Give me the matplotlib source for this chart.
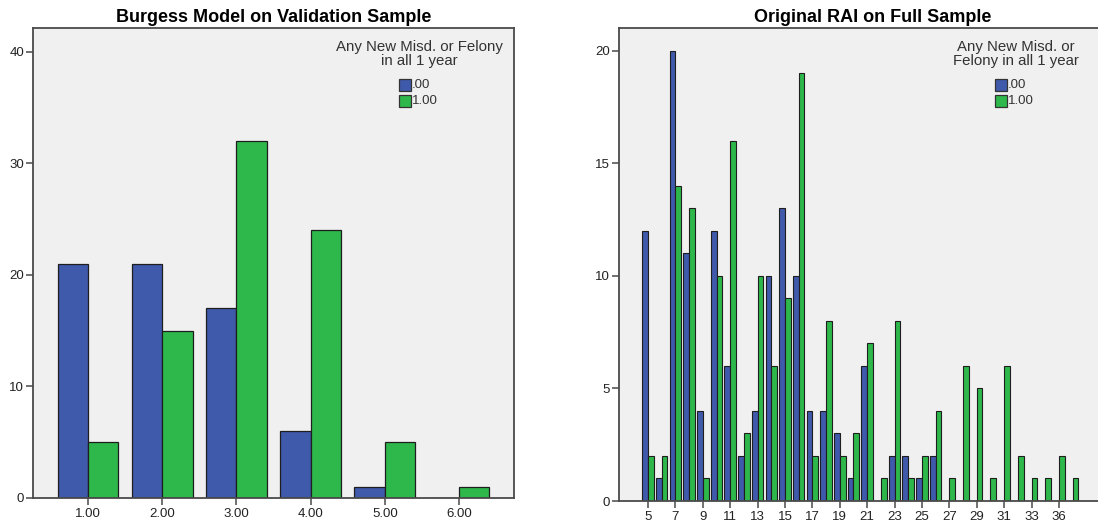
import matplotlib
matplotlib.use("Agg")
import matplotlib.pyplot as plt
from matplotlib.patches import Rectangle
import numpy as np

plt.rcParams['font.family'] = ['Liberation Sans', 'DejaVu Sans']

# ---------------- data ----------------
left_title = "Burgess Model on Validation Sample"
left_cats = ["1.00", "2.00", "3.00", "4.00", "5.00", "6.00"]
left_no = [21, 21, 17, 6, 1, 0]
left_yes = [5, 15, 32, 24, 5, 1]

right_title = "Original RAI on Full Sample"
right_cats = ["5", "6", "7", "8", "9", "10", "11", "12", "13", "14", "15", "16", "17",
              "18", "19", "20", "21", "22", "23", "24", "25", "26", "27", "28", "29",
              "30", "31", "32", "33", "35", "36", "38"]
right_no = [12, 1, 20, 11, 4, 12, 6, 2, 4, 10, 13, 10, 4,
            4, 3, 1, 6, 0, 2, 2, 1, 2, 0, 0, 0,
            0, 0, 0, 0, 0, 0, 0]
right_yes = [2, 2, 14, 13, 1, 10, 16, 3, 10, 6, 9, 19, 2,
             8, 2, 3, 7, 1, 8, 1, 2, 4, 1, 6, 5,
             1, 6, 2, 1, 1, 2, 1]

series_labels = [".00", "1.00"]
legend_title_left = "Any New Misd. or Felony\nin all 1 year"
legend_title_right = "Any New Misd. or\nFelony in all 1 year"

# ---------------- style ----------------
W, H = 1098, 523
BLUE = "#3F59AB"
GREEN = "#2EB84B"
BG = "#F0F0F0"
EDGE = "#1E1E1E"
SPINE = "#4A4A4A"
TXT = "#222222"

fig = plt.figure(figsize=(W / 100, H / 100), dpi=100)
fig.patch.set_facecolor("white")


def fx(px):
    return px / W


def fy(py):
    return 1 - py / H


def style_axes(ax, right_spine=True):
    ax.set_facecolor(BG)
    for s in ["left", "bottom", "top", "right"]:
        ax.spines[s].set_color(SPINE)
        ax.spines[s].set_linewidth(1.3)
    if not right_spine:
        ax.spines["right"].set_visible(False)
    ax.tick_params(axis="both", direction="out", length=5, width=1.1,
                   color=SPINE, labelsize=9.5, labelcolor=TXT, pad=1.5)
    ax.tick_params(axis="x", pad=2.5)


# ---------------- left chart ----------------
axL = fig.add_axes([fx(33), fy(498), fx(514 - 33), (498 - 28) / H])
style_axes(axL)
xl = np.arange(len(left_cats))
bw = 0.41
axL.bar(xl, left_no, width=-bw, align="edge", color=BLUE, edgecolor=EDGE, linewidth=0.9, zorder=2)
axL.bar(xl, left_yes, width=bw, align="edge", color=GREEN, edgecolor=EDGE, linewidth=0.9, zorder=2)
axL.set_xticks(xl)
axL.set_xticklabels(left_cats)
axL.set_xlim(-0.741, 5.741)
axL.set_ylim(0, 42.15)
axL.set_yticks([0, 10, 20, 30, 40])
axL.set_title(left_title, fontsize=13, fontweight="bold", color="black", pad=4)

# ---------------- right chart ----------------
axR = fig.add_axes([fx(619), fy(501), fx(1126 - 619), (501 - 28) / H])
style_axes(axR, right_spine=False)
xr = np.arange(len(right_cats))
bw2 = 0.42
axR.bar(xr, right_no, width=-bw2, align="edge", color=BLUE, edgecolor=EDGE, linewidth=0.8, zorder=2)
axR.bar(xr, right_yes, width=bw2, align="edge", color=GREEN, edgecolor=EDGE, linewidth=0.8, zorder=2)
tick_idx = list(range(0, len(right_cats), 2))
axR.set_xticks(tick_idx)
axR.set_xticklabels([right_cats[i] for i in tick_idx])
axR.set_xlim(-2.12, 34.9)
axR.set_ylim(0, 21.02)
axR.set_yticks([0, 5, 10, 15, 20])
axR.set_title(right_title, fontsize=13, fontweight="bold", color="black", pad=4)


# ---------------- legends ----------------
def draw_legend(cx, ty, title, sq_x, sq_y0):
    fig.text(fx(cx), fy(ty), title, ha="center", va="top", fontsize=10.8,
             color="#333333", linespacing=0.98)
    for k, (lab, col) in enumerate(zip(series_labels, [BLUE, GREEN])):
        y = sq_y0 + k * 16
        fig.add_artist(Rectangle((fx(sq_x), fy(y + 12)), fx(12), 12 / H,
                                 transform=fig.transFigure, facecolor=col,
                                 edgecolor="#333333", linewidth=0.9))
        fig.text(fx(sq_x + 13), fy(y + 6.5), lab, ha="left", va="center",
                 fontsize=9.5, color="#333333")


draw_legend(419, 40, legend_title_left, 399, 79)
draw_legend(1016, 40, legend_title_right, 995, 79)

fig.savefig("out.png", dpi=100, facecolor="white")
